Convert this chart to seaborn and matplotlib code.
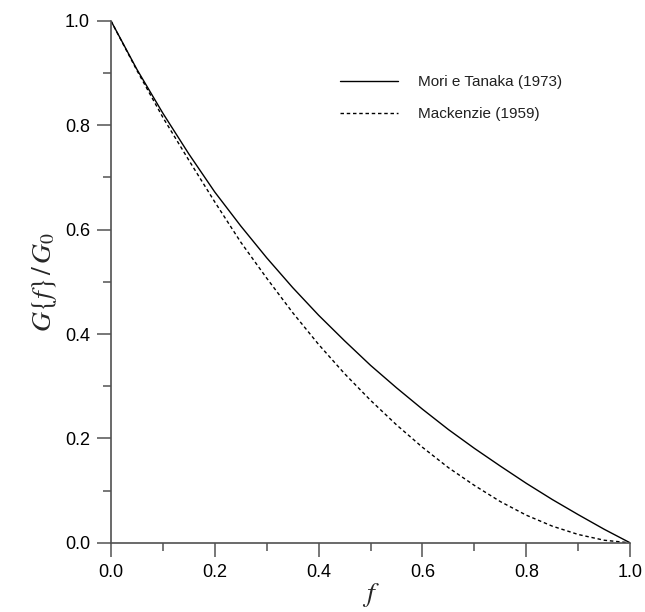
import matplotlib
matplotlib.use('Agg')
import matplotlib.pyplot as plt
import seaborn as sns
from matplotlib.ticker import MultipleLocator

# volume fraction f
f_values = [0.0, 0.05, 0.10, 0.15, 0.20, 0.25, 0.30, 0.35, 0.40, 0.45, 0.50,
            0.55, 0.60, 0.65, 0.70, 0.75, 0.80, 0.85, 0.90, 0.95, 1.0]

# G(f)/G0
mori_tanaka = [1.000, 0.907, 0.823, 0.745, 0.672, 0.607, 0.546, 0.489, 0.436, 0.387, 0.340,
               0.297, 0.256, 0.217, 0.181, 0.147, 0.114, 0.083, 0.054, 0.026, 0.000]
mackenzie = [1.000, 0.905, 0.815, 0.733, 0.653, 0.576, 0.507, 0.441, 0.380, 0.324, 0.273,
             0.226, 0.183, 0.144, 0.110, 0.079, 0.053, 0.032, 0.016, 0.005, 0.000]

labels = ['Mori e Tanaka (1973)', 'Mackenzie (1959)']

sns.set_style('white')
plt.rcParams['font.family'] = ['Liberation Sans', 'DejaVu Sans']
plt.rcParams['mathtext.fontset'] = 'stix'

fig = plt.figure(figsize=(6.45, 6.12), dpi=100)
ax = fig.add_axes([0.172, 0.113, 0.805, 0.853])

sns.lineplot(x=f_values, y=mori_tanaka, ax=ax, color='black', linewidth=1.0,
             label=labels[0])
sns.lineplot(x=f_values, y=mackenzie, ax=ax, color='black', linewidth=1.0,
             linestyle=(0, (2.5, 2)), label=labels[1])

ax.set_xlim(0, 1)
ax.set_ylim(0, 1)
ax.xaxis.set_major_locator(MultipleLocator(0.2))
ax.xaxis.set_minor_locator(MultipleLocator(0.1))
ax.yaxis.set_major_locator(MultipleLocator(0.2))
ax.yaxis.set_minor_locator(MultipleLocator(0.1))
ax.xaxis.set_major_formatter(lambda v, p: f'{v:.1f}')
ax.yaxis.set_major_formatter(lambda v, p: f'{v:.1f}')

for side in ['top', 'right']:
    ax.spines[side].set_visible(False)
for side in ['left', 'bottom']:
    ax.spines[side].set_color('#505050')
    ax.spines[side].set_linewidth(1.2)

ax.tick_params(which='major', direction='out', length=10, width=1.2,
               color='#606060', labelsize=13, pad=5, labelcolor='black')
ax.tick_params(which='minor', direction='out', length=6, width=1.2,
               color='#606060')
ax.tick_params(axis='x', bottom=True, which='both')
ax.tick_params(axis='y', left=True, which='both')

ax.set_xlabel('$f$', fontsize=20, labelpad=0)
ax.set_ylabel(r'$G\{f\}\,/\,G_0$', fontsize=20, labelpad=4)

ax.legend(loc='upper left', bbox_to_anchor=(0.441, 0.896), frameon=False,
          fontsize=11, handlelength=3.8, handletextpad=1.3, labelspacing=1.2,
          borderpad=0, borderaxespad=0, labelcolor='#202020')

fig.savefig('out.png', dpi=100, facecolor='white')
